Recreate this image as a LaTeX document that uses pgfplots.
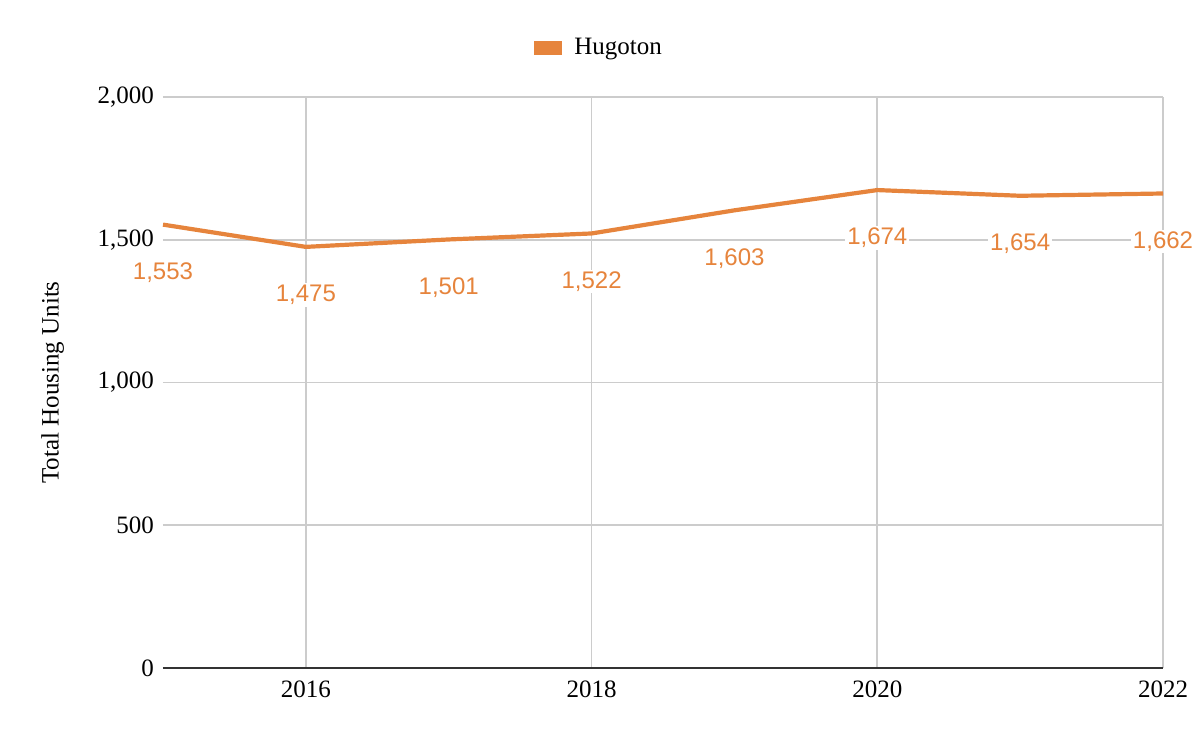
\documentclass[border=0pt]{standalone}
\usepackage{fontspec}
\setmainfont{Liberation Serif}
\newfontfamily\labfont{Liberation Sans}
\usepackage{pgfplots}
\pgfplotsset{compat=1.18}
\definecolor{hugo}{HTML}{E6843C}
\definecolor{gridc}{HTML}{CCCCCC}
\definecolor{axc}{HTML}{333333}

\begin{document}
\begin{tikzpicture}
\begin{axis}[
    name=ax,
    scale only axis,
    width=500pt, height=285.5pt,
    xmin=2015, xmax=2022,
    ymin=0, ymax=2000,
    xtick={2016,2018,2020,2022},
    ytick={0,500,1000,1500,2000},
    major tick length=0pt,
    grid=major,
    grid style={color=gridc, line width=0.8pt},
    axis line style={draw=none},
    clip=false,
    /pgf/number format/assume math mode=true,
    x tick label style={/pgf/number format/1000 sep={}, font=\fontsize{12.5}{15}\selectfont, yshift=-3pt},
    y tick label style={/pgf/number format/1000 sep={,}, font=\fontsize{12.5}{15}\selectfont, xshift=-1pt},
    ylabel={Total Housing Units},
    ylabel style={font=\fontsize{12.5}{15}\selectfont, yshift=10pt},
    legend style={at={(0.437,1.086)}, anchor=center, draw=none,
        font=\fontsize{12.5}{15}\selectfont, column sep=4pt},
    legend image code/.code={\fill[hugo] (0pt,-2.5pt) rectangle (12pt,2.5pt);},
    nodes near coords,
    every node near coord/.append style={anchor=center, yshift=-24pt,
        font=\labfont\fontsize{12}{14}\selectfont, text=hugo, fill=white, inner sep=1pt,
        /pgf/number format/1000 sep={,}},
]
\addplot[color=hugo, line width=2.1pt, mark=none] coordinates {
    (2015,1553) (2016,1475) (2017,1501) (2018,1522)
    (2019,1603) (2020,1674) (2021,1654) (2022,1662)
};
\addlegendentry{Hugoton}
\draw[color=axc, line width=1pt] (rel axis cs:0,0) -- (rel axis cs:1,0);
\end{axis}
\pgfresetboundingbox
\path[use as bounding box] ([shift={(-81.5pt,-37pt)}]ax.south west) rectangle ([shift={(18.5pt,48.5pt)}]ax.north east);
\end{tikzpicture}
\end{document}
